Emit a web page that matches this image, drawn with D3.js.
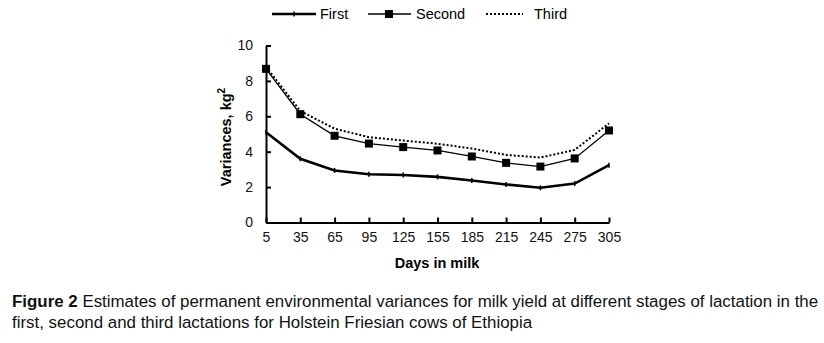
<!DOCTYPE html>
<html>
<head>
<meta charset="utf-8">
<script src="https://cdn.jsdelivr.net/npm/d3@7"></script>
<style>
  body { margin: 0; background: #fff; }
  svg { display: block; font-family: "Liberation Sans", Arial, sans-serif; }
</style>
</head>
<body>
<div id="chart"></div>
<script>
// data
const days = [5, 35, 65, 95, 125, 155, 185, 215, 245, 275, 305];
const first = [5.1, 3.6, 2.94, 2.73, 2.68, 2.58, 2.37, 2.15, 1.96, 2.2, 3.24];
const second = [8.68, 6.12, 4.9, 4.46, 4.26, 4.07, 3.73, 3.37, 3.16, 3.62, 5.2];
const third = [8.8, 6.3, 5.3, 4.82, 4.63, 4.45, 4.18, 3.82, 3.67, 4.1, 5.6];
const yTicks = [0, 2, 4, 6, 8, 10];

const width = 824, height = 343;
const svg = d3.select("#chart").append("svg")
    .attr("width", width)
    .attr("height", height);

const x = d3.scaleLinear().domain([5, 305]).range([266, 609]);
const y = d3.scaleLinear().domain([0, 10]).range([222.5, 45.5]);

// axes (ticks point inward)
const xAxis = svg.append("g")
    .attr("transform", `translate(0,${y(0)})`)
    .call(d3.axisBottom(x).tickValues(days).tickSize(-5).tickPadding(10).tickSizeOuter(0));
const yAxis = svg.append("g")
    .attr("transform", `translate(${x(5)},0)`)
    .call(d3.axisLeft(y).tickValues(yTicks).tickSize(-5).tickPadding(13).tickSizeOuter(0));

[xAxis, yAxis].forEach(ax => {
    ax.select(".domain").attr("stroke", "#000").attr("stroke-width", 2);
    ax.selectAll(".tick line").attr("stroke", "#000").attr("stroke-width", 2);
    ax.selectAll(".tick text")
        .style("font-size", "14px")
        .style("font-family", "'Liberation Sans', Arial, sans-serif")
        .attr("fill", "#111");
});

// axis titles
svg.append("text")
    .attr("x", 437).attr("y", 268)
    .attr("text-anchor", "middle")
    .style("font-size", "14.5px").style("font-weight", "bold")
    .text("Days in milk");

const yTitle = svg.append("text")
    .attr("transform", `translate(231,${137}) rotate(-90)`)
    .attr("text-anchor", "middle")
    .style("font-size", "14.5px").style("font-weight", "bold");
yTitle.append("tspan").text("Variances, kg");
yTitle.append("tspan").attr("dy", -6).style("font-size", "10px").text("2");

// lines
const line = vals => d3.line().x((d, i) => x(days[i])).y(d => y(d))(vals);

svg.append("path").attr("d", line(third))
    .attr("fill", "none").attr("stroke", "#000")
    .attr("stroke-width", 2).attr("stroke-dasharray", "2,2");

svg.append("path").attr("d", line(second))
    .attr("fill", "none").attr("stroke", "#000").attr("stroke-width", 1.3);

svg.append("path").attr("d", line(first))
    .attr("fill", "none").attr("stroke", "#000").attr("stroke-width", 2.6);

svg.selectAll(".sq").data(second).enter().append("rect")
    .attr("class", "sq")
    .attr("x", (d, i) => x(days[i]) - 4).attr("y", d => y(d) - 4)
    .attr("width", 8).attr("height", 8).attr("fill", "#000");

svg.selectAll(".plus").data(first).enter().append("line")
    .attr("class", "plus")
    .attr("x1", (d, i) => x(days[i])).attr("x2", (d, i) => x(days[i]))
    .attr("y1", d => y(d) - 2.5).attr("y2", d => y(d) + 2.5)
    .attr("stroke", "#000").attr("stroke-width", 1.5);

// legend
const lg = svg.append("g").style("font-size", "14.5px");
lg.append("line").attr("x1", 272).attr("x2", 316).attr("y1", 14).attr("y2", 14)
    .attr("stroke", "#000").attr("stroke-width", 2.6);
lg.append("line").attr("x1", 294).attr("x2", 294).attr("y1", 11.5).attr("y2", 16.5)
    .attr("stroke", "#000").attr("stroke-width", 1.5);
lg.append("text").attr("x", 320).attr("y", 19).text("First");

lg.append("line").attr("x1", 368).attr("x2", 411).attr("y1", 14).attr("y2", 14)
    .attr("stroke", "#000").attr("stroke-width", 1.3);
lg.append("rect").attr("x", 385).attr("y", 10).attr("width", 8).attr("height", 8).attr("fill", "#000");
lg.append("text").attr("x", 416).attr("y", 19).text("Second");

lg.append("line").attr("x1", 486).attr("x2", 523).attr("y1", 14).attr("y2", 14)
    .attr("stroke", "#000").attr("stroke-width", 2).attr("stroke-dasharray", "2,2");
lg.append("text").attr("x", 534).attr("y", 19).text("Third");

// caption
const cap = svg.append("g").style("font-size", "16.9px").attr("fill", "#111");
const l1 = cap.append("text").attr("x", 12).attr("y", 307);
l1.append("tspan").style("font-weight", "bold").text("Figure 2");
l1.append("tspan").text(" Estimates of permanent environmental variances for milk yield at different stages of lactation in the");
cap.append("text").attr("x", 12).attr("y", 328)
    .text("first, second and third lactations for Holstein Friesian cows of Ethiopia");
</script>
</body>
</html>
